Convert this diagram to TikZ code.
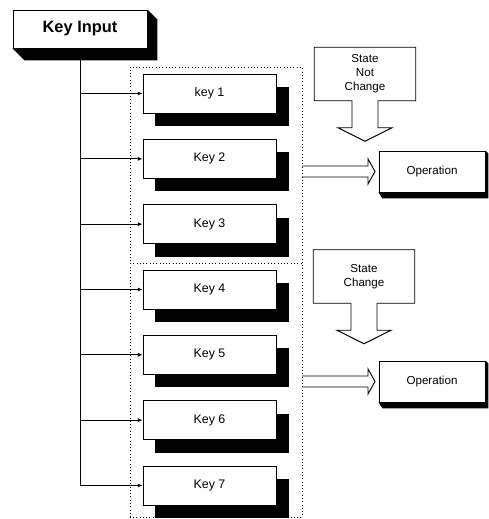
\documentclass[tikz,border=0pt]{standalone}
\usepackage{fontspec}
\setmainfont{Liberation Sans}
\usetikzlibrary{calc,arrows.meta,shadows}

\begin{document}
\begin{tikzpicture}[x=0.03cm,y=-0.03cm,
  keybox/.style={draw,line width=.8pt,fill=white,minimum width=3.99cm,minimum height=1.17cm,inner sep=0pt,
    font=\fontsize{10.6}{12}\selectfont,
    drop shadow={shadow xshift=.375cm,shadow yshift=-.39cm,fill=black,opacity=1}},
  opbox/.style={draw,line width=.8pt,fill=white,minimum width=3.18cm,minimum height=1.23cm,inner sep=0pt,
    font=\fontsize{9.9}{11.9}\selectfont},
  statebox/.style={align=center,minimum width=3.03cm,minimum height=1.59cm,inner sep=0pt,
    font=\fontsize{9.9}{11.9}\selectfont},
  feed/.style={line width=.8pt,-{Latex[length=4pt,width=3.5pt]}},
  keyframe/.style={dotted,line width=.8pt}]
\path[use as bounding box] (0,0) rectangle (489,519);

\node[draw,line width=.8pt,fill=white,minimum width=4.02cm,minimum height=1.14cm,inner sep=0pt,
  font=\bfseries\fontsize{14}{16}\selectfont] (kin) at (80,29) {Key Input};
\fill (kin.north east) -- ++(10,10) -- ($(kin.south east)+(10,12)$) -- ($(kin.south west)+(12,12)$)
  -- (kin.south west) -- (kin.south east) -- cycle;

\coordinate (fr) at (302,67);
\draw[keyframe] (130,517) rectangle (fr);
\draw[keyframe] (130,263) -- (302,263);

\foreach \i/\t in {1/key 1,2/Key 2,3/Key 3,4/Key 4,5/Key 5,6/Key 6,7/Key 7} {
  \node[keybox] (k\i) at (209.5,{93.5+65.33*(\i-1)}) {\t};
}
\draw[line width=.8pt] (kin.south) -- (kin.south |- k7.west);
\foreach \i in {1,...,7}
  \draw[feed] (kin.south |- k\i.west) -- (k\i.west);

\node[statebox] (snc) at (365,74) {State\\Not\\Change};
\node[statebox] (sc) at (364,276.5) {State\\Change};
\foreach \s in {snc,sc}
  \draw[line width=.8pt] ($(\s.south)+(-13,0)$) -- (\s.south west) -- (\s.north west) -- (\s.north east)
    -- (\s.south east) -- ($(\s.south)+(13,0)$) -- ++(0,27) -- ++(14,0) -- ++(-27,13.5) -- ++(-27,-13.5)
    -- ++(14,0) -- cycle;

\node[opbox] (op1) at (432,171.5) {Operation};
\node[opbox] (op2) at (432,381.5) {Operation};
\foreach \o in {op1,op2} {
  \fill (\o.north east) -- ++(3,3) -- ($(\o.south east)+(3,6)$) -- ($(\o.south west)+(4,6)$)
    -- (\o.south west) -- (\o.south east) -- cycle;
  \draw[line width=.8pt] (fr |- \o.west) ++(0,-5.5) -- ++(66,0) -- ++(0,-7) -- ++(7,12.5)
    -- ++(-7,12.5) -- ++(0,-7) -- ++(-66,0);
}
\end{tikzpicture}
\end{document}
